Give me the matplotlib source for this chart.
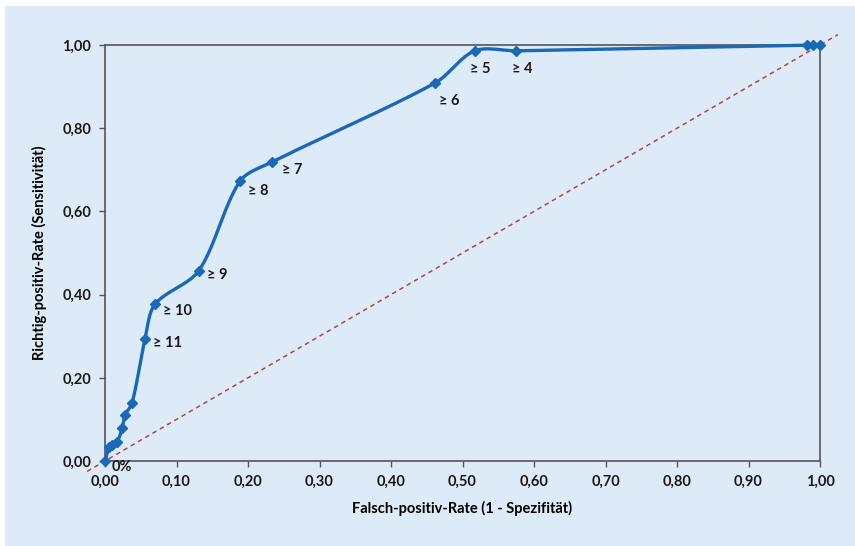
import numpy as np
import matplotlib.pyplot as plt
from matplotlib.patches import Rectangle
from matplotlib.ticker import FuncFormatter

plt.rcParams['font.family'] = ['Lato', 'DejaVu Sans']
plt.rcParams['font.weight'] = 'bold'

# ROC points (Falsch-positiv-Rate, Richtig-positiv-Rate)
fpr = [0.0, 0.006, 0.010, 0.017, 0.024, 0.028, 0.038, 0.056, 0.070, 0.131,
       0.189, 0.234, 0.462, 0.517, 0.575, 0.982, 0.990, 1.0]
tpr = [0.0, 0.034, 0.038, 0.046, 0.079, 0.110, 0.140, 0.293, 0.377, 0.457,
       0.673, 0.719, 0.909, 0.986, 0.986, 1.0, 1.0, 1.0]

# cutoff labels: (index of point, text)
labels = [(0, '0%'), (7, '≥ 11'), (8, '≥ 10'), (9, '≥ 9'), (10, '≥ 8'),
          (11, '≥ 7'), (12, '≥ 6'), (13, '≥ 5'), (14, '≥ 4')]
label_offsets = {'0%': (5, -4), '≥ 11': (6, -3), '≥ 10': (6, -5), '≥ 9': (6, -3),
                 '≥ 8': (6, -7), '≥ 7': (7, -6), '≥ 6': (3, -13), '≥ 5': (-3, -13),
                 '≥ 4': (-3, -13)}

xticks = np.arange(0, 1.01, 0.1)
yticks = np.arange(0, 1.01, 0.2)

line_color = '#1B68B4'
bg = '#DDEAF7'


def smooth(x, y, sx=715.0, sy=416.0, n=25, k=0.9):
    # smoothed line through the points; tangent length follows segment length
    P = np.column_stack([np.array(x) * sx, np.array(y) * sy])
    m = len(P)
    T = np.zeros_like(P)
    for i in range(m):
        a = P[max(i - 1, 0)]
        b = P[min(i + 1, m - 1)]
        d = b - a
        nd = np.hypot(*d)
        T[i] = d / nd if nd > 0 else 0
    out = [P[0]]
    for i in range(m - 1):
        p1, p2 = P[i], P[i + 1]
        L = np.hypot(*(p2 - p1)) / 3.0 * k
        c1 = p1 + T[i] * L
        c2 = p2 - T[i + 1] * L
        t = np.linspace(0, 1, n)[1:, None]
        seg = (1 - t)**3 * p1 + 3 * (1 - t)**2 * t * c1 + 3 * (1 - t) * t**2 * c2 + t**3 * p2
        out.extend(seg)
    out = np.array(out)
    return out[:, 0] / sx, out[:, 1] / sy


fig = plt.figure(figsize=(8.55, 5.46), dpi=100)
fig.patch.set_facecolor('white')
fig.add_artist(Rectangle((5 / 855, 0), 850 / 855, 1 - 6 / 546,
                         transform=fig.transFigure, facecolor=bg,
                         edgecolor='none', zorder=-10))

ax = fig.add_axes([105 / 855, 1 - 461 / 546, 715 / 855, 416 / 546])
ax.set_facecolor(bg)

# reference diagonal
ax.plot([-0.025, 1.025], [-0.025, 1.025], color='#B5454A', lw=1.1,
        ls=(0, (3, 2.5)), clip_on=False, zorder=2)

sx, sy = smooth(fpr, tpr)
ax.plot(sx, sy, color=line_color, lw=2.4, clip_on=False, zorder=3)
ax.plot(fpr, tpr, ls='none', marker='D', ms=5, color=line_color,
        clip_on=False, zorder=4)

for i, txt in labels:
    ax.annotate(txt, (fpr[i], tpr[i]), xytext=label_offsets[txt],
                textcoords='offset points', fontsize=10.5, fontweight='bold',
                ha='left', va='center', color='#1a1a1a')

ax.set_xlim(0, 1)
ax.set_ylim(0, 1)
ax.set_xticks(xticks)
ax.set_yticks(yticks)
fmt = FuncFormatter(lambda v, p: f'{v:.2f}'.replace('.', ','))
ax.xaxis.set_major_formatter(fmt)
ax.yaxis.set_major_formatter(fmt)
ax.tick_params(direction='out', length=4, width=1, color='#555555',
               labelsize=10.5, labelcolor='#1a1a1a', pad=6)
for lab in ax.get_xticklabels() + ax.get_yticklabels():
    lab.set_fontweight('bold')
for s in ax.spines.values():
    s.set_color('#555555')
    s.set_linewidth(1.2)

ax.set_xlabel('Falsch-positiv-Rate (1 - Spezifität)', fontsize=10.5,
              fontweight='bold', labelpad=9)
ax.set_ylabel('Richtig-positiv-Rate (Sensitivität)', fontsize=10.5,
              fontweight='bold', labelpad=11)

plt.savefig('out.png', dpi=100, facecolor='white')
